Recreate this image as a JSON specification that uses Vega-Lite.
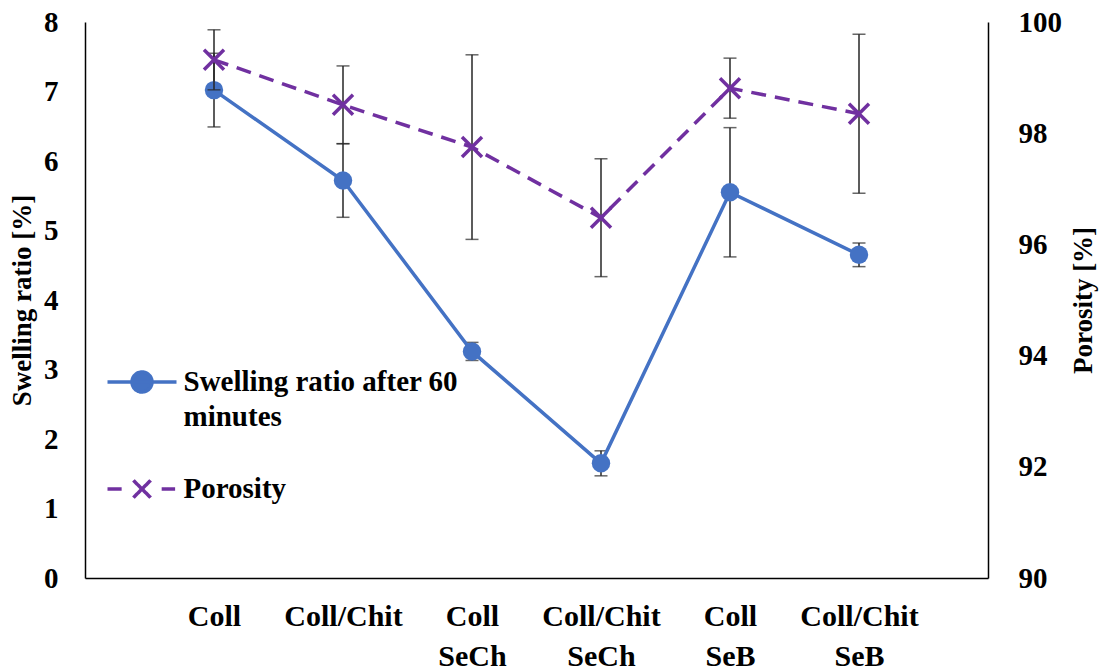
{
  "$schema": "https://vega.github.io/schema/vega-lite/v6.json",
  "width": 903,
  "height": 556,
  "autosize": {"type": "none"},
  "padding": {"left": 85, "top": 22, "right": 114, "bottom": 92},
  "background": "white",
  "config": {
    "view": {"stroke": null},
    "font": "Liberation Serif",
    "axis": {
      "grid": false,
      "ticks": false,
      "domainColor": "black",
      "domainWidth": 1.5,
      "labelFont": "Liberation Serif",
      "labelFontWeight": "bold",
      "labelFontSize": 29,
      "labelColor": "black",
      "titleFont": "Liberation Serif",
      "titleFontWeight": "bold",
      "titleFontSize": 27,
      "titleColor": "black"
    }
  },
  "data": {
    "values": [
      {"cat": "Coll", "swelling": 7.02, "swell_err": 0.53, "porosity": 99.32, "por_err": 0.54},
      {"cat": "Coll/Chit", "swelling": 5.72, "swell_err": 0.53, "porosity": 98.51, "por_err": 0.70},
      {"cat": "Coll SeCh", "swelling": 3.26, "swell_err": 0.13, "porosity": 97.75, "por_err": 1.66},
      {"cat": "Coll/Chit SeCh", "swelling": 1.65, "swell_err": 0.18, "porosity": 96.48, "por_err": 1.06},
      {"cat": "Coll SeB", "swelling": 5.55, "swell_err": 0.93, "porosity": 98.81, "por_err": 0.54},
      {"cat": "Coll/Chit SeB", "swelling": 4.65, "swell_err": 0.17, "porosity": 98.35, "por_err": 1.43}
    ]
  },
  "encoding": {
    "x": {
      "field": "cat",
      "type": "nominal",
      "sort": null,
      "scale": {"type": "point", "padding": 1},
      "axis": {
        "title": null,
        "labelAngle": 0,
        "labelFontSize": 30,
        "labelExpr": "split(datum.value, ' ')",
        "labelPadding": 23,
        "labelLineHeight": 40,
        "labelBaseline": "top"
      }
    }
  },
  "layer": [
    {
      "layer": [
        {
          "mark": {"type": "errorbar", "ticks": true, "size": 13, "thickness": 1.5, "color": "#262626"},
          "encoding": {
            "y": {
              "field": "swelling",
              "type": "quantitative",
              "scale": {"domain": [0, 8], "nice": false},
              "axis": {
                "title": "Swelling ratio [%]",
                "values": [0, 1, 2, 3, 4, 5, 6, 7, 8],
                "format": "d",
                "labelPadding": 27,
                "titlePadding": 7
              }
            },
            "yError": {"field": "swell_err"}
          }
        },
        {
          "mark": {"type": "line", "strokeWidth": 3.5},
          "encoding": {
            "y": {"field": "swelling", "type": "quantitative"},
            "color": {
              "datum": "Swelling ratio after 60 minutes",
              "type": "nominal",
              "scale": {"domain": ["Swelling ratio after 60 minutes", "Porosity"], "range": ["#4472C4", "#7030A0"]},
              "legend": {
                "orient": "none",
                "legendX": 20.5,
                "legendY": 323.5,
                "title": null,
                "padding": 0,
                "symbolSize": 4761,
                "labelFont": "Liberation Serif",
                "labelFontWeight": "bold",
                "labelFontSize": 29,
                "labelColor": "black",
                "labelLimit": 0,
                "labelOffset": 5,
                "rowPadding": 20,
                "labelExpr": "datum.label == 'Porosity' ? 'Porosity' : ['Swelling ratio after 60', 'minutes']",
                "encode": {
                  "symbols": {
                    "update": {
                      "shape": {"signal": "datum.value == 'Porosity' ? 'M-1,0H-0.59M0.57,0H0.96M-0.25,-0.25L0.25,0.25M-0.25,0.25L0.25,-0.25' : 'M-1,0H1M0.29,0A0.29,0.29,0,1,1,-0.29,0A0.29,0.29,0,1,1,0.29,0Z'"},
                      "fill": {"signal": "datum.value == 'Porosity' ? 'transparent' : '#4472C4'"},
                      "stroke": {"signal": "datum.value == 'Porosity' ? '#7030A0' : '#4472C4'"},
                      "strokeWidth": {"value": 3.5},
                      "strokeDash": {"value": [1, 0]},
                      "opacity": {"value": 1},
                      "size": {"value": 4761}
                    }
                  },
                  "labels": {
                    "update": {"lineHeight": {"value": 35}}
                  }
                }
              }
            }
          }
        },
        {
          "mark": {"type": "point", "filled": true, "color": "#4472C4", "size": 340, "opacity": 1},
          "encoding": {
            "y": {"field": "swelling", "type": "quantitative"}
          }
        }
      ]
    },
    {
      "layer": [
        {
          "mark": {"type": "errorbar", "ticks": true, "size": 13, "thickness": 1.5, "color": "#262626"},
          "encoding": {
            "y": {
              "field": "porosity",
              "type": "quantitative",
              "scale": {"domain": [90, 100], "nice": false, "zero": false},
              "axis": {
                "orient": "right",
                "title": "Porosity [%]",
                "titleAngle": -90,
                "values": [90, 92, 94, 96, 98, 100],
                "format": "d",
                "labelPadding": 30,
                "titlePadding": 36
              }
            },
            "yError": {"field": "por_err"}
          }
        },
        {
          "mark": {"type": "line", "strokeWidth": 3.5, "strokeDash": [15, 9]},
          "encoding": {
            "y": {"field": "porosity", "type": "quantitative"},
            "color": {"datum": "Porosity", "type": "nominal"}
          }
        },
        {
          "mark": {"type": "point", "filled": false, "shape": "M-1,-1L1,1M-1,1L1,-1", "color": "#7030A0", "strokeWidth": 3.5, "size": 400, "opacity": 1},
          "encoding": {
            "y": {"field": "porosity", "type": "quantitative"}
          }
        }
      ]
    }
  ],
  "resolve": {"scale": {"y": "independent"}}
}
